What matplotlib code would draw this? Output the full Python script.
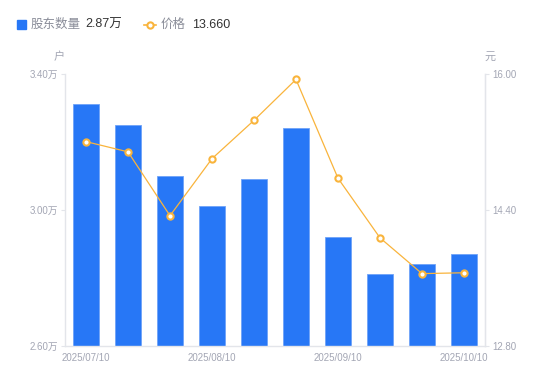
import matplotlib
matplotlib.use("Agg")
import matplotlib.pyplot as plt
from matplotlib.lines import Line2D
from matplotlib.patches import Rectangle

plt.rcParams['font.family'] = ['Liberation Sans', 'Noto Sans CJK SC', 'DejaVu Sans']

dates = ["2025/07/10", "2025/07/20", "2025/07/31", "2025/08/10", "2025/08/20",
         "2025/08/29", "2025/09/10", "2025/09/19", "2025/09/30", "2025/10/10"]
holders = [3.31, 3.25, 3.10, 3.01, 3.09, 3.24, 2.92, 2.81, 2.84, 2.87]  # 万户
price = [15.20, 15.08, 14.33, 15.00, 15.45, 15.93, 14.77, 14.07, 13.65, 13.66]
left_ticks = [2.60, 3.00, 3.40]
right_ticks = [12.80, 14.40, 16.00]
shown_labels = [0, 3, 6, 9]

BLUE = "#2777F6"
ORANGE = "#F9B43C"
GRAY = "#A3A6B4"
SPINE = "#E3E5EA"

fig = plt.figure(figsize=(5.5, 3.81), dpi=100)
ax = fig.add_axes([65/550, 1-346/381, 420/550, (346-73.5)/381])
x = list(range(len(dates)))
ax.bar(x, holders, width=0.6, color=BLUE, edgecolor="#6FA3F8", linewidth=0.6, zorder=2)
ax.set_xlim(-0.5, len(dates)-0.5)
ax.set_ylim(left_ticks[0], left_ticks[-1])
ax.set_yticks(left_ticks)
ax.set_yticklabels([f"{v:.2f}万" for v in left_ticks])
ax.set_xticks([x[i] for i in shown_labels])
ax.set_xticklabels([dates[i] for i in shown_labels])
ax.tick_params(axis='x', length=0, pad=5, labelsize=7, labelcolor=GRAY)
ax.tick_params(axis='y', length=3, color=SPINE, pad=2, labelsize=7, labelcolor=GRAY)
for s in ['top']:
    ax.spines[s].set_visible(False)
for s in ['left', 'right', 'bottom']:
    ax.spines[s].set_color(SPINE)
    ax.spines[s].set_linewidth(1)

ax2 = ax.twinx()
ax2.plot(x, price, color=ORANGE, linewidth=0.9, marker='o', markersize=4.5,
         markerfacecolor='white', markeredgecolor=ORANGE, markeredgewidth=1.5, zorder=3)
ax2.set_ylim(right_ticks[0], right_ticks[-1])
ax2.set_yticks(right_ticks)
ax2.set_yticklabels([f"{v:.2f}" for v in right_ticks])
ax2.tick_params(axis='y', length=3, color=SPINE, pad=2, labelsize=7, labelcolor=GRAY)
for s in ['top', 'left', 'bottom']:
    ax2.spines[s].set_visible(False)
ax2.spines['right'].set_color(SPINE)

fig.text(59/550, 1-57/381, "户", fontsize=8, color=GRAY, ha='center', va='center')
fig.text(490/550, 1-57/381, "元", fontsize=8, color=GRAY, ha='center', va='center')

# legend
ly = 1-24.5/381
fig.patches.append(Rectangle((17/550, 1-29/381), 8.5/550, 8.5/381, transform=fig.transFigure,
                             color=BLUE, figure=fig))
fig.text(31/550, ly, "股东数量", fontsize=9, color="#8A8D99", va='center', ha='left')
fig.text(85/550, ly, f"{holders[-1]:.2f}万", fontsize=9, color="#333333", va='center', ha='left')
fig.lines.append(Line2D([144/550, 156/550], [ly, ly], transform=fig.transFigure, color=ORANGE,
                        linewidth=1.2, marker='o', markevery=[0], markersize=0))
fig.lines.append(Line2D([150/550], [ly], transform=fig.transFigure, color=ORANGE,
                        marker='o', markersize=4.5, markerfacecolor='white',
                        markeredgecolor=ORANGE, markeredgewidth=1.5, linestyle='None'))
fig.text(161/550, ly, "价格", fontsize=9, color="#8A8D99", va='center', ha='left')
fig.text(192/550, ly, f"{price[-1]:.3f}", fontsize=9, color="#333333", va='center', ha='left')

fig.savefig("out.png", dpi=100)
